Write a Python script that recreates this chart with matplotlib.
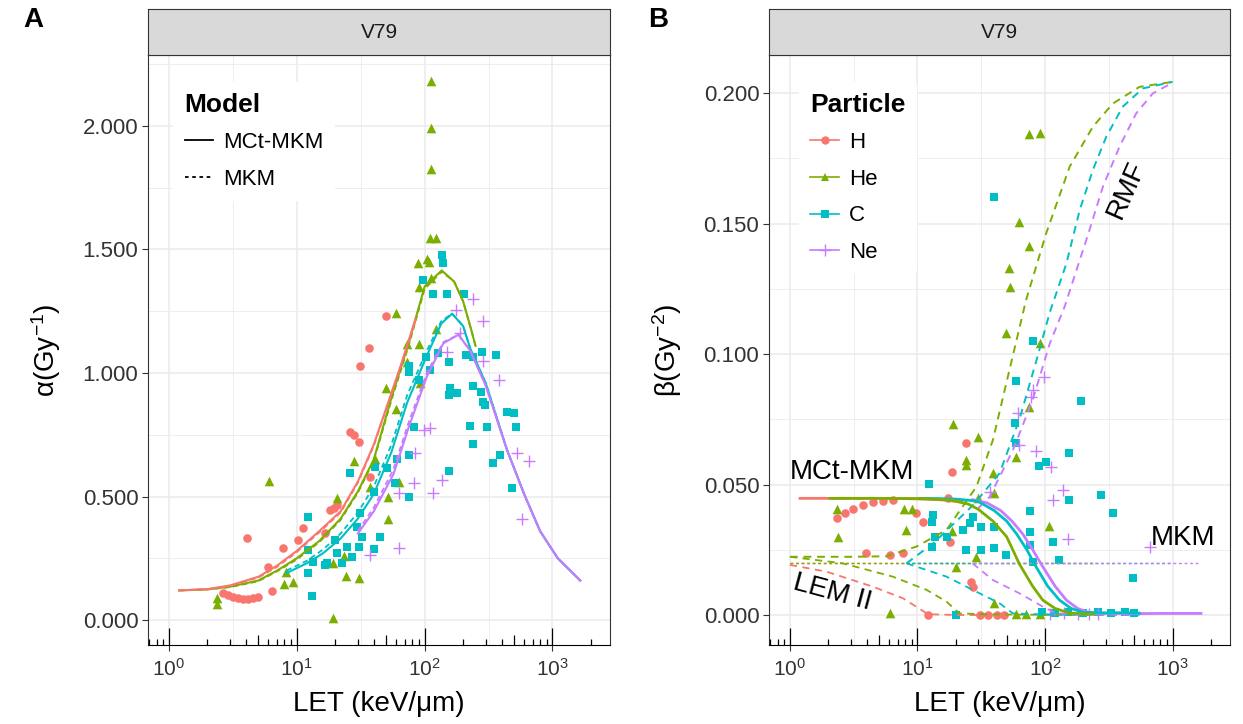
import matplotlib

matplotlib.use("Agg")
import matplotlib.pyplot as plt
from matplotlib.lines import Line2D
from matplotlib.ticker import FixedLocator, MultipleLocator, NullFormatter, FormatStrFormatter

plt.rcParams["font.family"] = ["Liberation Sans", "DejaVu Sans"]
plt.rcParams["mathtext.fontset"] = "custom"
plt.rcParams["mathtext.rm"] = "Liberation Sans"
plt.rcParams["mathtext.it"] = "Liberation Sans:italic"
plt.rcParams["mathtext.default"] = "regular"

PARTICLES = ["H", "He", "C", "Ne"]
COLORS = {"H": "#F8766D", "He": "#7CAE00", "C": "#00BFC4", "Ne": "#C77CFF"}
MARKERS = {"H": "o", "He": "^", "C": "s", "Ne": "+"}
SIZES = {"H": 38, "He": 48, "C": 36, "Ne": 85}

# ---------------- panel A: alpha ----------------
h_a_let = [2.66, 2.92, 3.19, 3.49, 3.82, 4.18, 4.57, 5.01, 6.37, 4.06, 6.0, 7.76, 10.2, 11.1, 16.7,
           18.2, 19.4, 20.5, 26.1, 27.8, 30.4, 31.3, 36.4, 50.0, 37.5]
h_a_alpha = [0.11, 0.10, 0.095, 0.09, 0.087, 0.087, 0.09, 0.095, 0.119, 0.331, 0.216, 0.29, 0.324,
             0.371, 0.354, 0.445, 0.452, 0.466, 0.762, 0.749, 0.722, 1.03, 1.10, 1.23, 0.58]
he_a_let = [112, 112, 112, 110, 123, 88, 105, 109, 112, 91, 60, 72.6, 91, 123, 72.6, 50, 60, 92, 41,
            28.2, 37.5, 20.5, 52, 62.7, 52, 23.4, 19.1, 24.2, 30.4, 19.1, 6.1, 7.96, 9.3, 8.3, 2.36, 2.36]
he_a_alpha = [2.18, 1.99, 1.825, 1.545, 1.545, 1.447, 1.46, 1.45, 1.383, 1.347, 1.244, 1.117, 1.117,
              1.18, 1.046, 0.938, 0.853, 0.958, 0.65, 0.644, 0.54, 0.493, 0.50, 0.56, 0.41, 0.26, 0.23,
              0.178, 0.17, 0.007, 0.563, 0.146, 0.155, 0.196, 0.088, 0.065]
c_a_let = [136, 140, 97, 116, 149, 204, 127, 154, 211, 241, 280, 362, 76, 76, 89.6, 103, 110, 158, 178,
           154, 241, 276, 288, 298, 228, 307, 238, 440, 502, 514, 391, 343, 480, 154, 76, 82, 76, 61, 59,
           50.6, 41, 40, 26, 31.3, 29.5, 32.2, 30.4, 27, 24.7, 22.5, 20.5, 20, 16.7, 17.2, 12.3, 12.3,
           12.3, 13.5, 13.1, 40, 44.8]
c_a_alpha = [1.478, 1.447, 1.376, 1.32, 1.32, 1.32, 1.082, 1.046, 1.073, 1.066, 1.086, 1.073, 1.03,
             1.005, 0.97, 1.066, 1.012, 0.938, 0.92, 0.911, 0.947, 0.924, 0.884, 0.870, 0.785, 0.78,
             0.713, 0.843, 0.837, 0.78, 0.668, 0.637, 0.533, 0.605, 0.668, 0.783, 0.50, 0.65, 0.553,
             0.614, 0.62, 0.52, 0.594, 0.432, 0.378, 0.337, 0.297, 0.256, 0.297, 0.23, 0.27, 0.324,
             0.223, 0.23, 0.418, 0.283, 0.192, 0.236, 0.097, 0.286, 0.337]
ne_a_let = [239, 288, 177, 149, 190, 288, 380, 98, 110, 84, 528, 656, 573, 136, 82, 116, 62.7, 62.7, 37.5]
ne_a_alpha = [1.30, 1.21, 1.255, 1.086, 1.16, 1.05, 0.97, 0.77, 0.776, 0.675, 0.675, 0.645, 0.41,
              0.567, 0.556, 0.513, 0.513, 0.29, 0.263]

# model curves, panel A (MCt-MKM solid, MKM dashed)
h_mct_let = [1.2, 2, 3, 5, 7, 10, 15, 22, 30, 40, 55, 65, 85]
h_mct_alpha = [0.12, 0.125, 0.14, 0.175, 0.22, 0.28, 0.36, 0.44, 0.56, 0.71, 0.92, 1.03, 1.22]
h_mkm_alpha = [0.12, 0.125, 0.138, 0.172, 0.215, 0.275, 0.355, 0.435, 0.555, 0.705, 0.915, 1.025, 1.215]
he_mct_let = [1.2, 2, 3, 5, 7, 10, 15, 22, 30, 40, 55, 75, 100, 136, 170, 200, 230, 250]
he_mct_alpha = [0.12, 0.124, 0.135, 0.16, 0.2, 0.25, 0.32, 0.41, 0.52, 0.65, 0.90, 1.12, 1.35, 1.415,
                1.37, 1.29, 1.18, 1.11]
he_mkm_alpha = [0.12, 0.124, 0.133, 0.157, 0.197, 0.245, 0.315, 0.405, 0.515, 0.645, 0.89, 1.11, 1.34,
                1.41, 1.37, 1.29, 1.18, 1.11]
c_mct_let = [8.3, 12, 16, 22, 30, 40, 55, 73, 104, 135, 164, 200, 227, 300, 440, 600, 800, 1100, 1650]
c_mct_alpha = [0.19, 0.23, 0.27, 0.33, 0.41, 0.51, 0.68, 0.88, 1.07, 1.2, 1.24, 1.19, 1.10, 0.96, 0.69,
               0.51, 0.36, 0.25, 0.16]
c_mkm_alpha = [0.20, 0.24, 0.285, 0.35, 0.435, 0.54, 0.71, 0.91, 1.09, 1.21, 1.24, 1.19, 1.10, 0.96,
               0.69, 0.51, 0.36, 0.25, 0.16]
ne_mct_let = [30, 40, 57, 75, 104, 140, 184, 227, 300, 440, 600, 800, 1100, 1650]
ne_mct_alpha = [0.35, 0.44, 0.59, 0.78, 0.985, 1.12, 1.155, 1.09, 0.95, 0.69, 0.51, 0.36, 0.25, 0.16]
ne_mkm_alpha = [0.36, 0.455, 0.61, 0.80, 1.0, 1.125, 1.155, 1.09, 0.95, 0.69, 0.51, 0.36, 0.25, 0.16]

# ---------------- panel B: beta ----------------
h_b_let = [23.9, 18.8, 2.32, 2.7, 3.13, 3.75, 4.5, 5.4, 6.4, 9.8, 11.1, 17.9, 17.4, 3.97, 6.07, 7.7,
           26.4, 27.3, 12.1, 30.9, 35.8, 42, 48]
h_b_beta = [0.0658, 0.0549, 0.037, 0.039, 0.0405, 0.0421, 0.0434, 0.0438, 0.0441, 0.039, 0.0357,
            0.0281, 0.0447, 0.0236, 0.023, 0.0239, 0.0128, 0.0108, 0.0, 0.0, 0.0, 0.0, 0.0]
he_b_let = [75, 92, 62.5, 75, 52, 53, 49.8, 92, 75, 59.4, 19, 29.9, 24.2, 24.2, 39, 40, 29.9, 8.1, 18.8,
            2.35, 2.4, 7.8, 9.1, 20.2, 29, 107, 6.07, 40, 59.4, 71, 90.5]
he_b_beta = [0.1843, 0.1848, 0.1507, 0.1414, 0.1328, 0.1258, 0.1082, 0.1041, 0.0798, 0.0607, 0.0732,
             0.0681, 0.0594, 0.0575, 0.0543, 0.0469, 0.0447, 0.0326, 0.0322, 0.0405, 0.0298, 0.0405,
             0.0405, 0.0185, 0.0223, 0.0341, 0.0006, 0.0045, 0.0005, 0.0005, 0.0005]
c_b_let = [40, 80, 59.4, 192, 58, 59.4, 155, 89, 102, 12.3, 276, 155, 344, 75.7, 13.3, 12.9, 27.3, 25.7,
           22.8, 24.2, 31.7, 40, 31.7, 40, 13.7, 16.9, 13.1, 75.7, 75.7, 115, 128, 49.8, 80, 488, 20.2,
           95, 120, 150, 200, 260, 330, 420, 500]
c_b_beta = [0.16, 0.1051, 0.0898, 0.082, 0.0737, 0.0658, 0.062, 0.0571, 0.0587, 0.0501, 0.046, 0.0441,
            0.0392, 0.04, 0.0383, 0.0357, 0.0377, 0.0351, 0.0326, 0.0249, 0.0249, 0.0255, 0.0338,
            0.0338, 0.0298, 0.0298, 0.0262, 0.0319, 0.0268, 0.0281, 0.0211, 0.023, 0.0204, 0.0141,
            0.0, 0.001, 0.0008, 0.0012, 0.0006, 0.001, 0.0008, 0.0012, 0.0009]
ne_b_let = [99, 80, 77, 61.6, 63, 85.5, 112, 138, 115, 150, 660, 37, 110, 140, 180, 220, 260]
ne_b_beta = [0.0913, 0.0862, 0.0836, 0.0773, 0.0651, 0.063, 0.0568, 0.0479, 0.0441, 0.029, 0.0262,
             0.047, 0.0004, 0.0006, 0.0003, 0.0005, 0.0004]

# MCt-MKM beta curves (solid)
h_bmct_let = [1.2, 2, 4, 8, 12, 17, 22]
h_bmct_beta = [0.0447, 0.0447, 0.0447, 0.0446, 0.0444, 0.044, 0.0432]
he_bmct_let = [2.06, 5, 10, 15, 20, 25, 30, 39, 50, 63, 80, 96, 120, 155, 200, 240]
he_bmct_beta = [0.0447, 0.0447, 0.0446, 0.0443, 0.0437, 0.0425, 0.0405, 0.036, 0.030, 0.0195, 0.011,
                0.0057, 0.0025, 0.0008, 0.0004, 0.0003]
c_bmct_let = [10.4, 15, 20, 25, 30, 40, 50, 60, 72, 85, 105, 130, 160, 200, 300, 400, 550]
c_bmct_beta = [0.0447, 0.0446, 0.0444, 0.044, 0.0435, 0.040, 0.036, 0.031, 0.025, 0.0185, 0.011,
               0.0057, 0.0025, 0.001, 0.0008, 0.0009, 0.0007]
ne_bmct_let = [27, 35, 45, 55, 67, 80, 96, 120, 147, 180, 220, 300, 500, 800, 1200, 1670]
ne_bmct_beta = [0.0442, 0.043, 0.040, 0.036, 0.031, 0.025, 0.0185, 0.011, 0.0057, 0.0025, 0.001,
                0.0006, 0.0005, 0.0006, 0.0006, 0.0006]

# MKM beta (flat, dotted)
mkm_beta = 0.0198
mkm_let_range = {"H": [1.0, 25], "He": [1.0, 240], "C": [8.2, 1000], "Ne": [27, 1650]}

# LEM II beta (dashed)
h_lem_let = [1.0, 1.94, 4.5, 7.7, 12.1, 20, 40]
h_lem_beta = [0.0192, 0.0166, 0.0108, 0.0064, 0.0003, 0.0, 0.0]
he_lem_let = [1.0, 2.6, 6.4, 11.8, 16.9, 21.4, 40, 80, 240]
he_lem_beta = [0.0223, 0.0198, 0.0147, 0.0096, 0.0051, 0.0006, 0.0002, 0.0001, 0.0001]
c_lem_let = [8.2, 16.9, 29, 44, 56, 100, 200, 550]
c_lem_beta = [0.0198, 0.0147, 0.0089, 0.0045, 0.0006, 0.0002, 0.0001, 0.0001]
ne_lem_let = [27, 39, 63, 96, 122, 200, 500]
ne_lem_beta = [0.0198, 0.0134, 0.0083, 0.0032, 0.0006, 0.0002, 0.0001]

# RMF beta (dashed)
he_rmf_let = [1.0, 3, 5.7, 9.8, 16.9, 29, 39, 49.8, 71, 102, 156, 237, 340, 551, 1000]
he_rmf_beta = [0.0223, 0.0223, 0.0225, 0.0262, 0.0326, 0.0492, 0.067, 0.089, 0.1207, 0.1462, 0.1718,
               0.1871, 0.196, 0.2024, 0.2043]
c_rmf_let = [8.2, 13.3, 27.3, 44, 63, 85, 109, 147, 187, 237, 302, 407, 584, 1000]
c_rmf_beta = [0.0198, 0.0275, 0.0421, 0.0543, 0.075, 0.097, 0.116, 0.1347, 0.1552, 0.1705, 0.1833,
              0.1948, 0.2018, 0.2043]
ne_rmf_let = [30, 36.8, 56, 80, 109, 142, 176, 223, 284, 383, 518, 700, 1000]
ne_rmf_beta = [0.041, 0.0453, 0.0632, 0.0824, 0.1041, 0.118, 0.132, 0.1475, 0.1641, 0.1794, 0.1922,
               0.1999, 0.2040]

XLIM = (10 ** -0.164, 10 ** 3.45)
GRID = "#EBEBEB"
BORDER = "#333333"
TICKTXT = "#333333"

fig = plt.figure(figsize=(12.43, 7.24), dpi=100)
W, H = 1243.0, 724.0


def make_panel(left_px, right_px, label, panel_letter, letter_x):
    ax = fig.add_axes([left_px / W, 1 - 645 / H, (right_px - left_px) / W, 590 / H])
    strip = fig.add_axes([left_px / W, 1 - 55 / H, (right_px - left_px) / W, 46 / H])
    strip.set_facecolor("#D9D9D9")
    strip.set_xticks([])
    strip.set_yticks([])
    for s in strip.spines.values():
        s.set_color(BORDER)
        s.set_linewidth(0.8)
    strip.text(0.5, 0.5, label, ha="center", va="center", fontsize=15, color="#1A1A1A",
               transform=strip.transAxes)
    fig.text(letter_x / W, 1 - 20 / H, panel_letter, fontsize=20, fontweight="bold",
             ha="center", va="center")

    ax.set_xscale("log")
    ax.set_xlim(*XLIM)
    ax.xaxis.set_major_locator(FixedLocator([1, 10, 100, 1000]))
    ax.xaxis.set_minor_locator(FixedLocator([10 ** 0.5, 10 ** 1.5, 10 ** 2.5, 10 ** 3.5]))
    ax.xaxis.set_minor_formatter(NullFormatter())
    ax.set_axisbelow(True)
    ax.grid(which="major", color=GRID, lw=1.1)
    ax.grid(which="minor", color=GRID, lw=0.6)
    ax.tick_params(which="major", length=4, width=0.8, color=BORDER, labelsize=16,
                   labelcolor=TICKTXT, pad=3)
    ax.tick_params(axis="x", which="major", labelsize=15, pad=5)
    ax.tick_params(which="minor", length=0)
    for s in ax.spines.values():
        s.set_color(BORDER)
        s.set_linewidth(0.8)
    ax.spines["bottom"].set_color("black")
    ax.set_xlabel("LET (keV/μm)", fontsize=20, labelpad=8)

    # log tick annotation along the bottom, inside the panel
    trans = ax.get_xaxis_transform()
    for dec in range(-1, 4):
        for m in range(1, 10):
            v = m * 10.0 ** dec
            if v < XLIM[0] or v > XLIM[1]:
                continue
            length = 0.029 if m == 1 else (0.017 if m == 5 else 0.010)
            ax.plot([v, v], [0, length], transform=trans, color="black", lw=0.9,
                    solid_capstyle="butt", zorder=5)
    return ax


def style_legend(leg):
    leg.get_frame().set_edgecolor("none")
    leg.get_frame().set_facecolor("white")
    leg.get_frame().set_alpha(1)


def draw_points(ax, points):
    for p in PARTICLES:
        x, y = points[p]
        if MARKERS[p] == "+":
            ax.scatter(x, y, marker="+", s=SIZES[p], color=COLORS[p], linewidths=1.0, zorder=2)
        else:
            ax.scatter(x, y, marker=MARKERS[p], s=SIZES[p], color=COLORS[p], linewidths=0, zorder=2)


axA = make_panel(148, 610, "V79", "A", 33)
axB = make_panel(769, 1230, "V79", "B", 658)

# ---- panel A ----
draw_points(axA, {
    "H": (h_a_let, h_a_alpha),
    "He": (he_a_let, he_a_alpha),
    "C": (c_a_let, c_a_alpha),
    "Ne": (ne_a_let, ne_a_alpha),
})

curves_a = {
    "H": (h_mct_let, h_mct_alpha, h_mkm_alpha),
    "He": (he_mct_let, he_mct_alpha, he_mkm_alpha),
    "C": (c_mct_let, c_mct_alpha, c_mkm_alpha),
    "Ne": (ne_mct_let, ne_mct_alpha, ne_mkm_alpha),
}
for p in ["C", "Ne", "He", "H"]:
    x, ys, yd = curves_a[p]
    axA.plot(x, yd, color=COLORS[p], lw=1.3, ls=(0, (3, 2)), zorder=3)
    axA.plot(x, ys, color=COLORS[p], lw=1.5, zorder=3)

axA.set_ylim(-0.101, 2.287)
axA.yaxis.set_major_locator(MultipleLocator(0.5))
axA.yaxis.set_minor_locator(MultipleLocator(0.25))
axA.yaxis.set_major_formatter(FormatStrFormatter("%.3f"))
axA.set_ylabel(r"α(Gy$^{-1}$)", fontsize=20, labelpad=14)

model_handles = [
    Line2D([], [], color="black", lw=1.3, ls="-"),
    Line2D([], [], color="black", lw=1.3, ls=(0, (2, 2))),
]
legA = axA.legend(model_handles, ["MCt-MKM", "MKM"], title="Model", loc="upper left",
                  bbox_to_anchor=(0.055, 0.955), frameon=True, fontsize=16,
                  title_fontproperties={"weight": "bold", "size": 19}, alignment="left",
                  handlelength=1.3, handletextpad=0.45, labelspacing=0.7, borderpad=0.5,
                  borderaxespad=0)
style_legend(legA)

# ---- panel B ----
draw_points(axB, {
    "H": (h_b_let, h_b_beta),
    "He": (he_b_let, he_b_beta),
    "C": (c_b_let, c_b_beta),
    "Ne": (ne_b_let, ne_b_beta),
})

lem = {"H": (h_lem_let, h_lem_beta), "He": (he_lem_let, he_lem_beta),
       "C": (c_lem_let, c_lem_beta), "Ne": (ne_lem_let, ne_lem_beta)}
rmf = {"He": (he_rmf_let, he_rmf_beta), "C": (c_rmf_let, c_rmf_beta), "Ne": (ne_rmf_let, ne_rmf_beta)}
mct = {"H": (h_bmct_let, h_bmct_beta), "He": (he_bmct_let, he_bmct_beta),
       "C": (c_bmct_let, c_bmct_beta), "Ne": (ne_bmct_let, ne_bmct_beta)}

for p in PARTICLES:
    x, y = lem[p]
    axB.plot(x, y, color=COLORS[p], lw=1.3, ls=(0, (4, 3)), zorder=3)
    lo, hi = mkm_let_range[p]
    axB.plot([lo, hi], [mkm_beta, mkm_beta], color=COLORS[p], lw=1.0, ls=(0, (2, 2)), zorder=3)
for p in ["He", "C", "Ne"]:
    x, y = rmf[p]
    axB.plot(x, y, color=COLORS[p], lw=1.4, ls=(0, (4, 3)), zorder=3)
for p in ["Ne", "C", "H", "He"]:
    x, y = mct[p]
    axB.plot(x, y, color=COLORS[p], lw=2.0, zorder=4)

axB.set_ylim(-0.0115, 0.2146)
axB.yaxis.set_major_locator(MultipleLocator(0.05))
axB.yaxis.set_minor_locator(MultipleLocator(0.025))
axB.yaxis.set_major_formatter(FormatStrFormatter("%.3f"))
axB.set_ylabel(r"β(Gy$^{-2}$)", fontsize=20, labelpad=14)

axB.text(3.06, 0.0548, "MCt-MKM", fontsize=20, ha="center", va="center", zorder=6)
axB.text(1200, 0.0295, "MKM", fontsize=20, ha="center", va="center", zorder=6)
axB.text(2.15, 0.0084, "LEM II", fontsize=20, ha="center", va="center", rotation=-15, zorder=6)
axB.text(436, 0.163, "RMF", fontsize=20, ha="center", va="center", rotation=66, zorder=6)

particle_handles = []
for p in PARTICLES:
    if MARKERS[p] == "+":
        h = Line2D([], [], color=COLORS[p], lw=1.2, marker="+", markersize=9, markeredgewidth=1.0)
    else:
        h = Line2D([], [], color=COLORS[p], lw=1.2, marker=MARKERS[p], markersize=6,
                   markeredgewidth=0)
    particle_handles.append(h)
legB = axB.legend(particle_handles, PARTICLES, title="Particle", loc="upper left",
                  bbox_to_anchor=(0.065, 0.955), frameon=True, fontsize=16,
                  title_fontproperties={"weight": "bold", "size": 19}, alignment="left",
                  handlelength=1.3, handletextpad=0.45, labelspacing=0.7, borderpad=0.5,
                  borderaxespad=0)
style_legend(legB)

fig.savefig("out.png", dpi=100)
